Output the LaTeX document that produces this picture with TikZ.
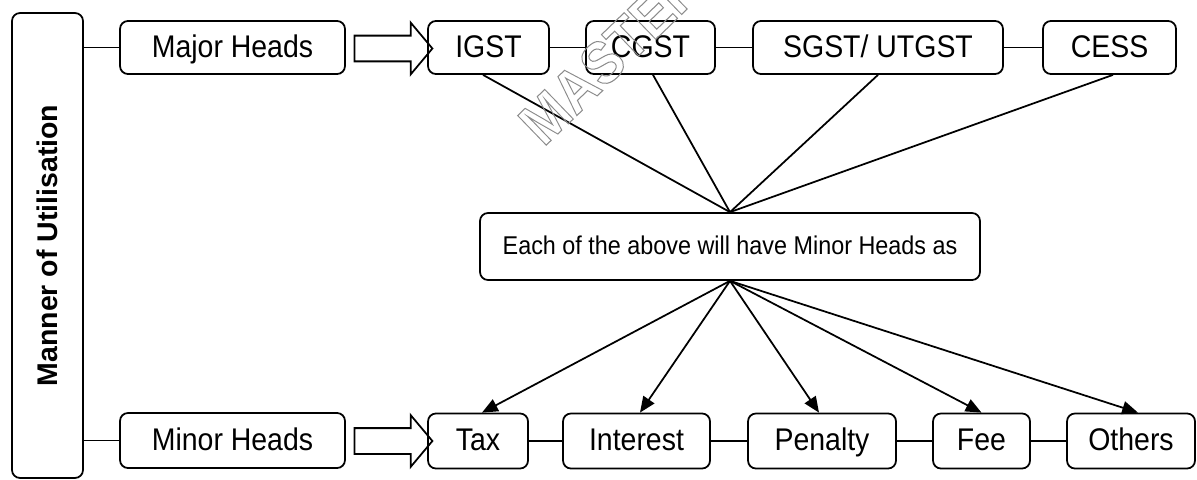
\documentclass[tikz,border=0pt]{standalone}
\usepackage{graphicx}
\usepackage{fontspec}
\setmainfont{Liberation Sans}
\usetikzlibrary{arrows.meta,shapes.arrows}
\newcommand\tallt[1]{\scalebox{1}[1.1]{#1}}
\begin{document}
\begin{tikzpicture}[x=0.02cm,y=-0.02cm,
  box/.style={draw, line width=1pt, rounded corners=4.5pt, inner sep=0pt, align=center,
              font=\fontsize{16.2}{19}\selectfont, text height=14.3pt, text depth=3.2pt},
  toprow/.style={box, minimum height=1.06cm},
  botrow/.style={box, minimum height=1.1cm},
  link/.style={line width=0.6pt},
  spoke/.style={line width=1pt},
  arr/.style={line width=1pt, -{Triangle[length=9pt,width=7.5pt]}},
  blockarrow/.style={draw, line width=1pt, single arrow, single arrow head extend=0.26cm,
              single arrow tip angle=100, inner sep=0.24cm, minimum height=1.56cm, minimum width=1cm},
]
\useasboundingbox (0,0) rectangle (1197,480);

% left vertical box
\node[draw, line width=1pt, rounded corners=4.5pt, inner sep=0pt,
      minimum width=9.3cm, minimum height=1.42cm, rotate=90,
      font=\fontsize{16.2}{19}\selectfont\bfseries] (mou) at (47.5,245.5) {Manner of Utilisation};

% top row
\node[toprow, minimum width=4.5cm]  (major) at (232.5,47.5) {\tallt{Major Heads}};
\node[blockarrow] (barA) at (388,48.5) {};
\node[toprow, minimum width=2.42cm] (igst)  at (488.5,47.5) {\tallt{IGST}};
\node[toprow, minimum width=2.58cm] (cgst)  at (650.5,47.5) {\tallt{CGST}};
\node[toprow, minimum width=5.0cm]  (sgst)  at (878,47.5)   {\tallt{SGST/ UTGST}};
\node[toprow, minimum width=2.66cm] (cess)  at (1109.5,47.5) {\tallt{CESS}};

% middle box
\node[box, minimum width=10cm, minimum height=1.34cm,
      font=\fontsize{13.3}{16}\selectfont, text height=11.7pt, text depth=2.7pt] (mid) at (730,246.5)
      {\tallt{Each of the above will have Minor Heads as}};

% bottom row
\node[botrow, minimum width=4.5cm]  (minor)    at (232.5,440.5) {\tallt{Minor Heads}};
\node[blockarrow] (barB) at (388,441) {};
\node[botrow, minimum width=2.0cm]  (tax)      at (478,441)   {\tallt{Tax}};
\node[botrow, minimum width=2.94cm] (interest) at (636.5,441) {\tallt{Interest}};
\node[botrow, minimum width=2.96cm] (penalty)  at (822,441)   {\tallt{Penalty}};
\node[botrow, minimum width=1.94cm] (fee)      at (981.5,441) {\tallt{Fee}};
\node[botrow, minimum width=2.56cm] (others)   at (1131,441)  {\tallt{Others}};

% connectors to left box
\draw[link] (mou.south |- major.west) -- (major.west);
\draw[link] (mou.south |- minor.west) -- (minor.west);

% horizontal links
\draw[link] (igst) -- (cgst);
\draw[link] (cgst) -- (sgst);
\draw[link] (sgst) -- (cess);
\draw[link] (tax) -- (interest);
\draw[link] (interest) -- (penalty);
\draw[link] (penalty) -- (fee);
\draw[link] (fee) -- (others);

% spokes to middle box
\draw[spoke] ([xshift=-0.11cm]igst.south) -- (mid.north);
\draw[spoke] ([xshift=0.05cm]cgst.south) -- (mid.north);
\draw[spoke] (sgst.south) -- (mid.north);
\draw[spoke] ([xshift=0.07cm]cess.south) -- (mid.north);

% arrows to minor heads
\draw[arr] (mid.south) -- ([xshift=0.08cm]tax.north);
\draw[arr] (mid.south) -- ([xshift=0.07cm]interest.north);
\draw[arr] (mid.south) -- ([xshift=-0.06cm]penalty.north);
\draw[arr] (mid.south) -- (fee.north);
\draw[arr] (mid.south) -- ([xshift=0.14cm]others.north);

% watermark
\begin{scope}
\clip (0,0) rectangle (1197,480);
\node[rotate=44, text=black!45, font=\fontsize{34}{34}\selectfont\bfseries, inner sep=0pt] (wm) at (611,54)
  {\special{pdf:literal direct 1 Tr 0.6 w}\scalebox{0.9}[1]{MASTER}\special{pdf:literal direct 0 Tr}};
\end{scope}
\end{tikzpicture}
\end{document}
